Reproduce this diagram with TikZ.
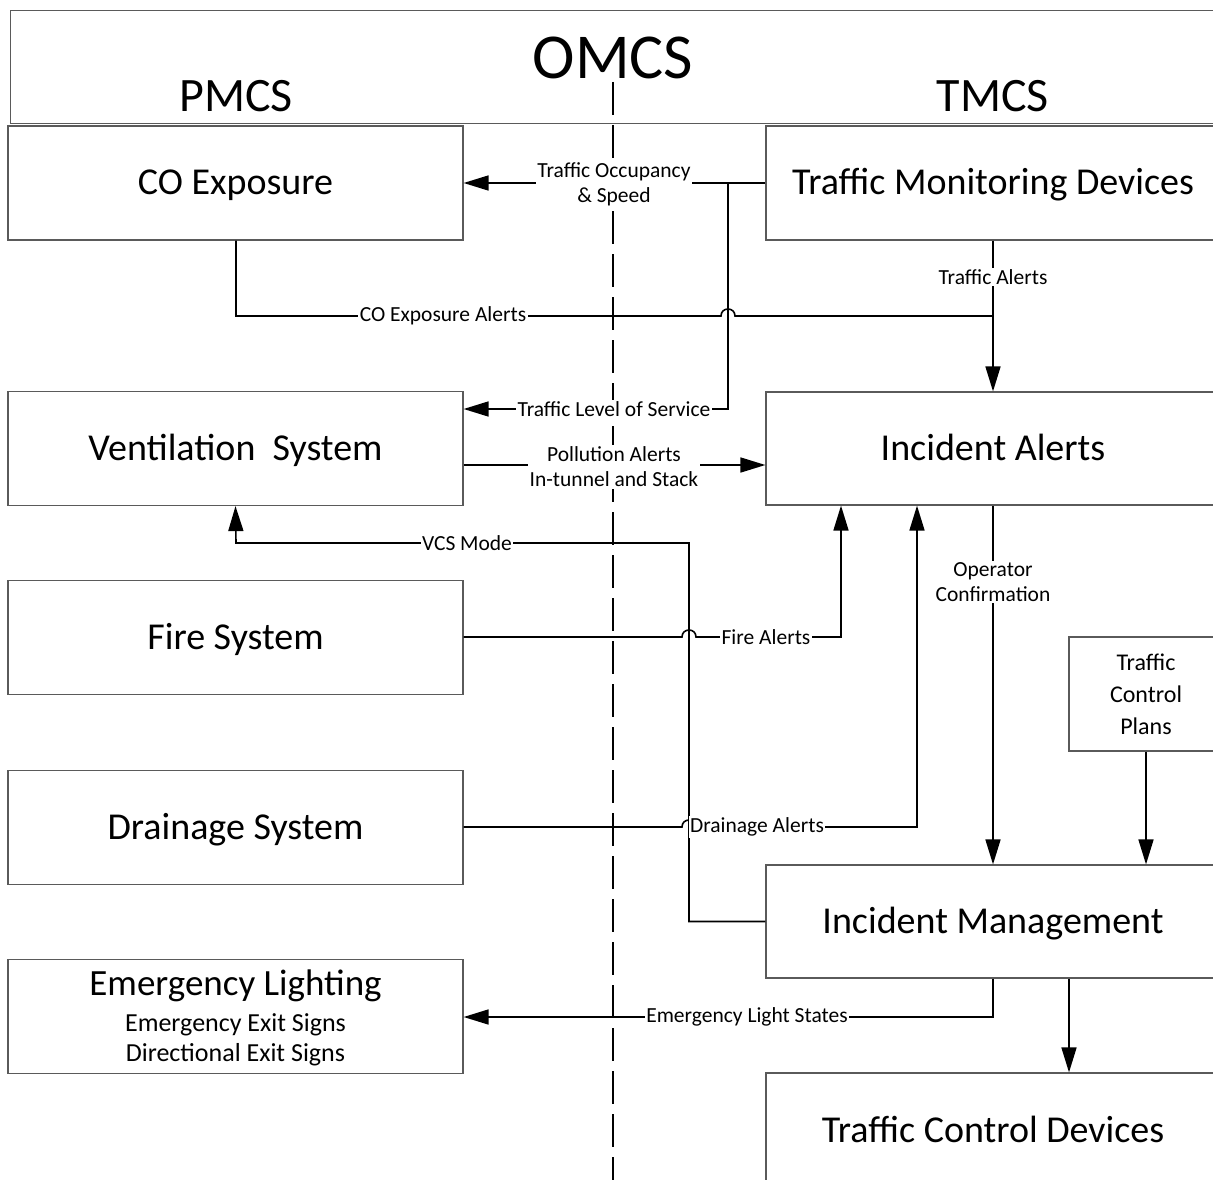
\documentclass[tikz,border=0pt]{standalone}
\usepackage{fontspec}
\setmainfont{Carlito}
\usetikzlibrary{arrows.meta}
\definecolor{boxgray}{RGB}{90,90,90}
\begin{document}
\begin{tikzpicture}[x=1pt,y=-1pt,
  box/.style={draw=boxgray, line width=1.2pt, minimum width=455pt, minimum height=114pt, inner sep=0pt, align=center, font=\fontsize{38}{44}\selectfont, text height=29pt, text depth=6pt},
  rbox/.style={box, minimum width=454pt},
  conn/.style={line width=1.6pt, black},
  arr/.style={conn, -{Triangle[length=25pt,width=15pt]}},
  lbl/.style={fill=white, inner sep=1.5pt, align=center, font=\fontsize{21.5}{25}\selectfont},
  divider/.style={line width=1.6pt, dash pattern=on 33pt off 10pt},
  subtxt/.style={inner sep=0pt, font=\fontsize{26}{30}\selectfont}
]
\useasboundingbox (0,0) rectangle (1213,1180);
\clip (0,0) rectangle (1213,1180);
\fill[white] (0,0) rectangle (1213,1180);

% header
\node[draw=boxgray, line width=1.2pt, minimum width=1210pt, minimum height=113pt, inner sep=0pt, anchor=north west] (head) at (10,10) {};
\node[font=\fontsize{64}{70}\selectfont] (omcs) at (613,58) {OMCS};
\node[font=\fontsize{48}{52}\selectfont] (pmcs) at (236,96) {PMCS};
\node[font=\fontsize{48}{52}\selectfont] (tmcs) at (993,96) {TMCS};

% divider
\coordinate (dtop) at (613,82);
\coordinate (dbot) at (613,1180);
\draw[divider] (dtop) -- (dbot);

% left boxes
\node[box, fill=white] (co) at (235.5,183) {CO Exposure};
\node[box, fill=white] (vent) at (235.5,448.5) {Ventilation\ \ System};
\node[box, fill=white] (fire) at (235.5,637.5) {Fire System};
\node[box, fill=white] (drain) at (235.5,827.5) {Drainage System};
\node[box, fill=white] (elight) at (235.5,1016.5) {};
\node[subtxt, font=\fontsize{37}{40}\selectfont] (el1) at (235.5,986) {Emergency Lighting};
\node[subtxt] (el2) at (235.5,1025) {Emergency Exit Signs};
\node[subtxt] (el3) at (235.5,1055) {Directional Exit Signs};

% right boxes
\node[rbox, fill=white] (tmd) at (993,183) {Traffic Monitoring Devices};
\node[rbox, fill=white, minimum height=113pt] (ia) at (993,448.5) {Incident Alerts};
\node[rbox, fill=white, minimum height=113pt] (im) at (993,921.5) {Incident Management};
\node[rbox, fill=white, minimum height=116pt] (tcd) at (993,1131) {Traffic Control Devices};
\node[draw=boxgray, line width=1.2pt, minimum width=154pt, minimum height=114pt, inner sep=0pt, align=center, font=\fontsize{24}{32}\selectfont, fill=white] (tcp) at (1146,694) {Traffic\\Control\\Plans};

% helper coordinates
\coordinate (b1) at (728,183);
\coordinate (b2) at (728,409);
\coordinate (coa) at (236,316);
\coordinate (ta) at (993,316);
\coordinate (vm1) at (689,921.5);
\coordinate (vm2) at (689,543);
\coordinate (vm3) at (236,543);
\coordinate (fa) at (841,637);
\coordinate (da) at (917,827);
\coordinate (el) at (993,1017);
\coordinate (pa) at (0,465);

% connectors
\draw[arr] (tmd.west |- b1) -- (co.east |- b1);
\draw[arr] (b1) -- (b2) -- (vent.east |- b2);
\draw[conn] (co.south -| coa) -- (coa) -- (721,316) .. controls (721,306.7) and (735,306.7) .. (735,316) -- (ta);
\draw[arr] (tmd.south) -- (ia.north);
\draw[arr] (vent.east |- pa) -- (ia.west |- pa);
\draw[arr] (im.west) -- (vm1) -- (vm2) -- (vm3) -- (vent.south);
\draw[arr] (fire.east |- fa) -- (682,637) .. controls (682,627.7) and (696,627.7) .. (696,637) -- (fa) -- (ia.south -| fa);
\draw[arr] (drain.east |- da) -- (682,827) .. controls (682,817.7) and (696,817.7) .. (696,827) -- (da) -- (ia.south -| da);
\draw[arr] (ia.south) -- (im.north);
\draw[arr] (tcp.south) -- (im.north -| tcp.south);
\draw[arr] (im.south) -- (el) -- (elight.east |- el);
\draw[arr] (im.south -| 1069,0) -- (tcd.north -| 1069,0);

% labels
\node[lbl] (l1) at (614,184) {Traffic Occupancy\\\& Speed};
\node[lbl] (l2) at (443,316) {CO Exposure Alerts};
\node[lbl] (l3) at (614,409) {Traffic Level of Service};
\node[lbl] (l4) at (614,467) {Pollution Alerts\\In-tunnel and Stack};
\node[lbl] (l5) at (467,543) {VCS Mode};
\node[lbl] (l6) at (766,637) {Fire Alerts};
\node[lbl] (l7) at (757,827) {Drainage Alerts};
\node[lbl] (l8) at (993,582) {Operator\\Confirmation};
\node[lbl] (l9) at (993,277) {Traffic Alerts};
\node[lbl] (l10) at (747,1017) {Emergency Light States};
\end{tikzpicture}
\end{document}
